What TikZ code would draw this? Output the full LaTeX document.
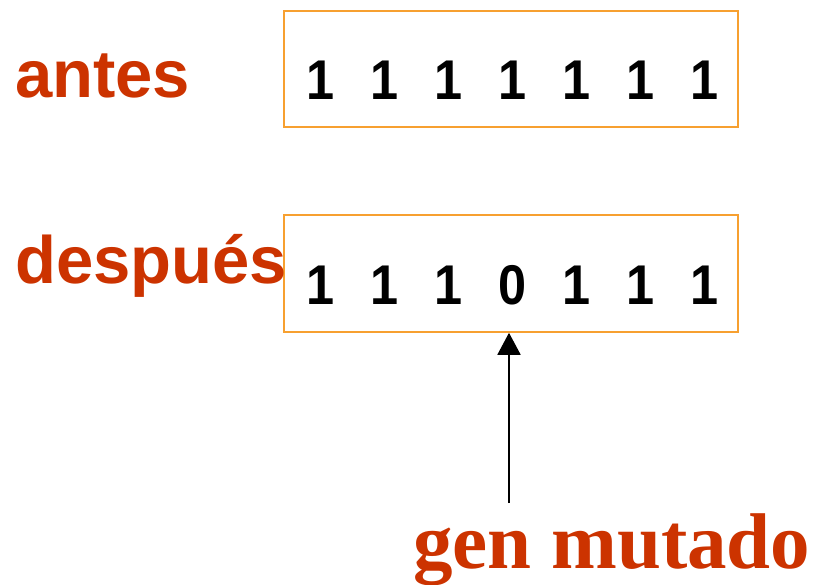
\documentclass[tikz,border=0pt]{standalone}
\usepackage{fontspec}
\setmainfont{Liberation Serif}
\setsansfont{Liberation Sans}
\usetikzlibrary{arrows.meta}
\definecolor{labelred}{HTML}{CC3300}
\definecolor{boxorange}{HTML}{F7A030}
\tikzset{
  chromo/.style={draw=boxorange, line width=1.8pt},
  bit/.style={anchor=base, inner sep=0pt, xscale=0.9, font=\sffamily\bfseries\fontsize{56}{56}\selectfont},
  tag/.style={anchor=base west, inner sep=0pt, text=labelred, font=\sffamily\bfseries\fontsize{67}{67}\selectfont},
  note/.style={anchor=base west, inner sep=0pt, text=labelred, font=\rmfamily\bfseries\fontsize{79}{79}\selectfont},
  pointer/.style={-{Triangle[length=22pt,width=23pt]}, line width=1.8pt, black}
}
\begin{document}
\begin{tikzpicture}[x=1pt,y=-1pt]
  \useasboundingbox (0,0) rectangle (817,585);
  % chromosome before mutation
  \node[chromo, minimum width=454pt, minimum height=116pt, anchor=north west] (before) at (283,10) {};
  \node[tag] (antes) at (15,98) {antes};
  \foreach \i in {0,...,6} {
    \node[bit] (b\i) at ({321+64*\i},100) {1};
  }
  % chromosome after mutation
  \node[chromo, minimum width=454pt, minimum height=117pt, anchor=north west] (after) at (283,214) {};
  \node[tag] (despues) at (15,284) {después};
  \foreach \d [count=\j from 0] in {1,1,1,0,1,1,1} {
    \node[bit] (a\j) at ({321+64*\j},305) {\d};
  }
  % pointer to the mutated gene
  \node[note] (gen) at (413,568) {gen mutado};
  \coordinate (tail) at (509,503);
  \draw[pointer] (tail) -- (tail |- after.south);
\end{tikzpicture}
\end{document}
